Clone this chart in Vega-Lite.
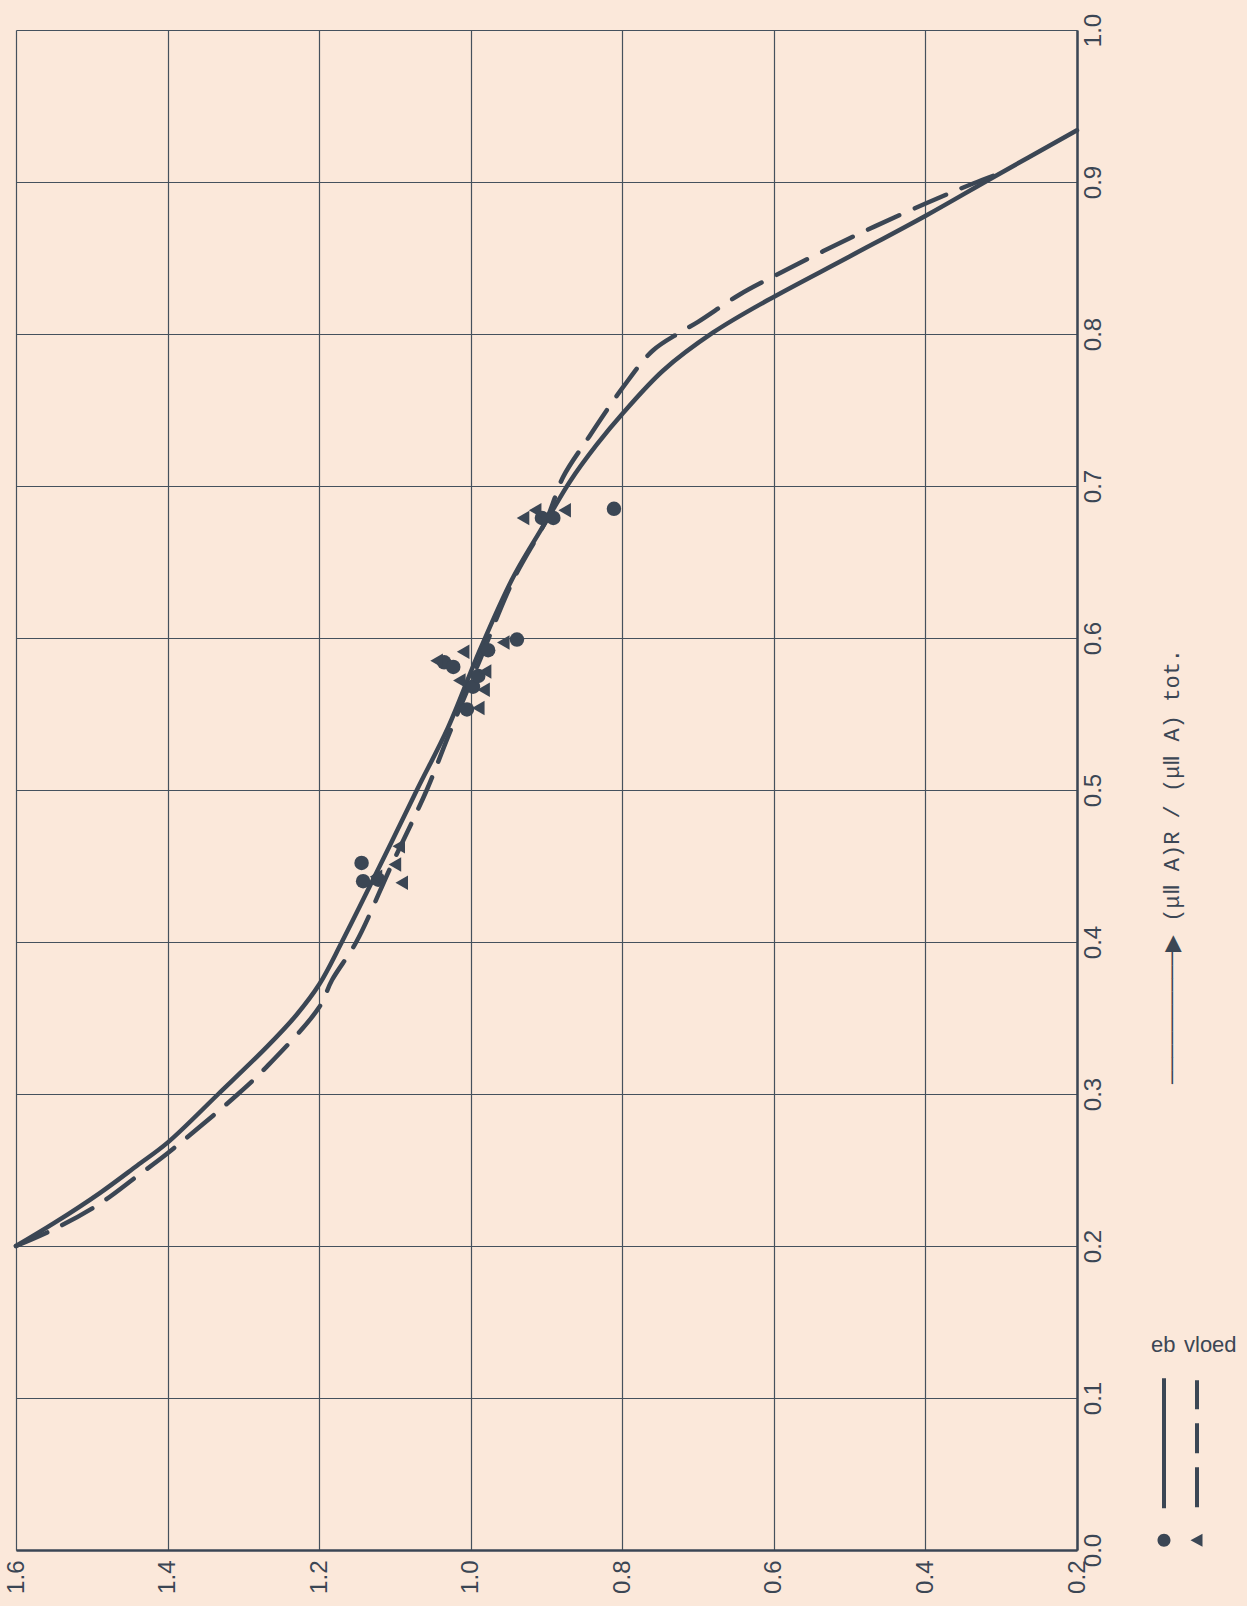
{
  "$schema": "https://vega.github.io/schema/vega-lite/v6.json",
  "width": 1061,
  "height": 1520,
  "autosize": {"type": "none"},
  "padding": {"left": 16, "top": 30, "right": 170, "bottom": 56},
  "background": "#fbe8da",
  "config": {
    "view": {"stroke": null},
    "axis": {
      "labelFont": "Liberation Sans",
      "labelFontSize": 24,
      "labelColor": "#3b4654",
      "gridColor": "#45515d",
      "gridWidth": 1.2,
      "gridOpacity": 1,
      "domainColor": "#3b4654",
      "domainWidth": 2.5,
      "tickSize": 0,
      "labelFlush": false
    }
  },
  "datasets": {
    "curves": [
      {"series": "eb", "r": 1.6, "x": 0.2},
      {"series": "eb", "r": 1.55, "x": 0.215},
      {"series": "eb", "r": 1.489, "x": 0.235},
      {"series": "eb", "r": 1.44, "x": 0.253},
      {"series": "eb", "r": 1.4, "x": 0.268},
      {"series": "eb", "r": 1.333, "x": 0.3},
      {"series": "eb", "r": 1.269, "x": 0.331},
      {"series": "eb", "r": 1.23, "x": 0.352},
      {"series": "eb", "r": 1.2, "x": 0.372},
      {"series": "eb", "r": 1.17, "x": 0.4},
      {"series": "eb", "r": 1.12, "x": 0.45},
      {"series": "eb", "r": 1.071, "x": 0.5},
      {"series": "eb", "r": 1.03, "x": 0.541},
      {"series": "eb", "r": 0.988, "x": 0.592},
      {"series": "eb", "r": 0.944, "x": 0.64},
      {"series": "eb", "r": 0.899, "x": 0.678},
      {"series": "eb", "r": 0.869, "x": 0.703},
      {"series": "eb", "r": 0.834, "x": 0.727},
      {"series": "eb", "r": 0.799, "x": 0.748},
      {"series": "eb", "r": 0.746, "x": 0.776},
      {"series": "eb", "r": 0.68, "x": 0.801},
      {"series": "eb", "r": 0.609, "x": 0.822},
      {"series": "eb", "r": 0.5, "x": 0.851},
      {"series": "eb", "r": 0.399, "x": 0.878},
      {"series": "eb", "r": 0.311, "x": 0.903},
      {"series": "eb", "r": 0.2, "x": 0.934},
      {"series": "vloed", "r": 1.6, "x": 0.2},
      {"series": "vloed", "r": 1.55, "x": 0.211},
      {"series": "vloed", "r": 1.489, "x": 0.228},
      {"series": "vloed", "r": 1.44, "x": 0.246},
      {"series": "vloed", "r": 1.4, "x": 0.261},
      {"series": "vloed", "r": 1.307, "x": 0.3},
      {"series": "vloed", "r": 1.269, "x": 0.318},
      {"series": "vloed", "r": 1.2, "x": 0.357},
      {"series": "vloed", "r": 1.183, "x": 0.375},
      {"series": "vloed", "r": 1.151, "x": 0.4},
      {"series": "vloed", "r": 1.105, "x": 0.45},
      {"series": "vloed", "r": 1.058, "x": 0.5},
      {"series": "vloed", "r": 1.03, "x": 0.535},
      {"series": "vloed", "r": 0.99, "x": 0.583},
      {"series": "vloed", "r": 0.944, "x": 0.638},
      {"series": "vloed", "r": 0.9, "x": 0.678},
      {"series": "vloed", "r": 0.878, "x": 0.706},
      {"series": "vloed", "r": 0.847, "x": 0.73},
      {"series": "vloed", "r": 0.799, "x": 0.765},
      {"series": "vloed", "r": 0.76, "x": 0.789},
      {"series": "vloed", "r": 0.724, "x": 0.801},
      {"series": "vloed", "r": 0.7, "x": 0.808},
      {"series": "vloed", "r": 0.645, "x": 0.826},
      {"series": "vloed", "r": 0.6, "x": 0.838},
      {"series": "vloed", "r": 0.5, "x": 0.863},
      {"series": "vloed", "r": 0.399, "x": 0.886},
      {"series": "vloed", "r": 0.337, "x": 0.899},
      {"series": "vloed", "r": 0.3, "x": 0.906}
    ],
    "points": [
      {"series": "eb", "r": 1.144, "x": 0.452},
      {"series": "eb", "r": 1.142, "x": 0.44},
      {"series": "eb", "r": 1.122, "x": 0.441},
      {"series": "eb", "r": 1.035, "x": 0.584},
      {"series": "eb", "r": 1.023, "x": 0.581},
      {"series": "eb", "r": 1.005, "x": 0.553},
      {"series": "eb", "r": 0.997, "x": 0.568},
      {"series": "eb", "r": 0.99, "x": 0.575},
      {"series": "eb", "r": 0.977, "x": 0.592},
      {"series": "eb", "r": 0.939, "x": 0.599},
      {"series": "eb", "r": 0.906, "x": 0.679},
      {"series": "eb", "r": 0.891, "x": 0.679},
      {"series": "eb", "r": 0.811, "x": 0.685},
      {"series": "vloed", "r": 1.095, "x": 0.463},
      {"series": "vloed", "r": 1.1, "x": 0.451},
      {"series": "vloed", "r": 1.091, "x": 0.439},
      {"series": "vloed", "r": 1.125, "x": 0.443},
      {"series": "vloed", "r": 1.045, "x": 0.585},
      {"series": "vloed", "r": 1.01, "x": 0.591},
      {"series": "vloed", "r": 1.015, "x": 0.572},
      {"series": "vloed", "r": 0.957, "x": 0.597},
      {"series": "vloed", "r": 0.981, "x": 0.578},
      {"series": "vloed", "r": 0.983, "x": 0.566},
      {"series": "vloed", "r": 0.99, "x": 0.554},
      {"series": "vloed", "r": 0.931, "x": 0.679},
      {"series": "vloed", "r": 0.915, "x": 0.684},
      {"series": "vloed", "r": 0.876, "x": 0.684}
    ]
  },
  "encoding": {
    "x": {
      "field": "r",
      "type": "quantitative",
      "scale": {"domain": [0.2, 1.6], "reverse": true, "nice": false, "zero": false},
      "axis": {
        "orient": "bottom",
        "values": [0.2, 0.4, 0.6, 0.8, 1.0, 1.2, 1.4, 1.6],
        "format": ".1f",
        "labelAngle": -90,
        "labelFlush": true,
        "labelPadding": 10,
        "title": null
      }
    },
    "y": {
      "field": "x",
      "type": "quantitative",
      "scale": {"domain": [0, 1], "nice": false, "zero": false},
      "axis": {
        "orient": "right",
        "values": [0, 0.1, 0.2, 0.3, 0.4, 0.5, 0.6, 0.7, 0.8, 0.9, 1.0],
        "format": ".1f",
        "labelAngle": -90,
        "labelAlign": "center",
        "labelBaseline": "top",
        "labelPadding": 4,
        "title": "──────────▶  (μⅡ A)R / (μⅡ A) tot.",
        "titleAngle": -90,
        "titleX": 94,
        "titleY": 836,
        "titleAlign": "center",
        "titleBaseline": "middle",
        "titleFont": "Liberation Mono",
        "titleFontSize": 22,
        "titleFontWeight": "normal",
        "titleColor": "#3b4654"
      }
    }
  },
  "resolve": {"scale": {"shape": "independent"}, "legend": {"shape": "independent"}},
  "layer": [
    {
      "data": {"name": "curves"},
      "transform": [{"filter": "datum.series === 'eb'"}],
      "mark": {"type": "line", "color": "#3b4654", "strokeWidth": 4.5, "strokeCap": "round", "interpolate": "catmull-rom"}
    },
    {
      "data": {"name": "curves"},
      "transform": [{"filter": "datum.series === 'vloed'"}],
      "mark": {"type": "line", "color": "#3b4654", "strokeWidth": 4.5, "strokeCap": "round", "strokeDash": [34, 17], "interpolate": "catmull-rom"}
    },
    {
      "data": {"name": "points"},
      "mark": {"type": "point", "filled": true, "size": 210, "opacity": 1, "color": "#3b4654"},
      "encoding": {
        "shape": {
          "field": "series",
          "type": "nominal",
          "scale": {"domain": ["eb", "vloed"], "range": ["circle", "triangle-left"]},
          "legend": null
        }
      }
    },
    {
      "data": {"name": "points"},
      "mark": {"type": "point", "filled": true, "size": 400, "opacity": 0, "color": "#3b4654"},
      "encoding": {
        "shape": {
          "field": "series",
          "type": "nominal",
          "scale": {
            "domain": ["eb", "vloed"],
            "range": [
              "M0.15,19.5A0.65,0.65,0,1,0,1.45,19.5A0.65,0.65,0,1,0,0.15,19.5ZM0.6,3.3L1.0,3.3L1.0,16.3L0.6,16.3Z",
              "M0.15,19.5L1.35,18.85L1.35,20.15ZM0.6,3.5L1.0,3.5L1.0,6.4L0.6,6.4ZM0.6,7.8L1.0,7.8L1.0,10.8L0.6,10.8ZM0.6,12.2L1.0,12.2L1.0,16.2L0.6,16.2Z"
            ]
          },
          "legend": {
            "orient": "none",
            "legendX": 1129,
            "legendY": 1304,
            "direction": "horizontal",
            "columns": 2,
            "title": null,
            "padding": 0,
            "symbolSize": 400,
            "symbolFillColor": "#3b4654",
            "symbolStrokeWidth": 0,
            "symbolOpacity": 1,
            "labelFont": "Liberation Sans",
            "labelFontSize": 22,
            "labelColor": "#3b4654",
            "labelOffset": -16,
            "columnPadding": 2
          }
        }
      }
    }
  ]
}
